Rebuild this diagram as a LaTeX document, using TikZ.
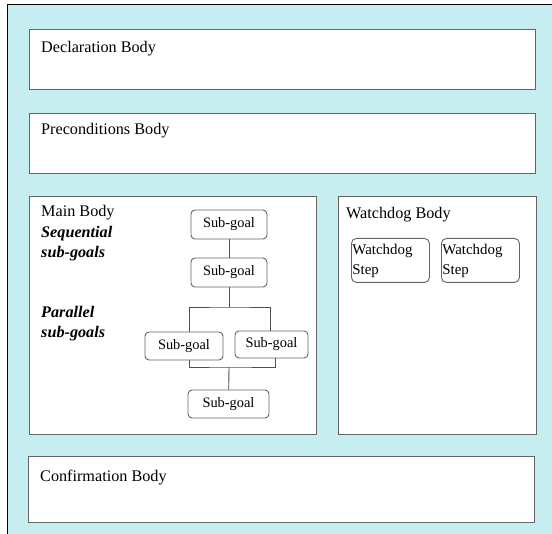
\documentclass[tikz,border=0pt]{standalone}
\usepackage{fontspec}
\setmainfont{Liberation Serif}
\definecolor{bgcyan}{RGB}{198,238,240}
\definecolor{boxgray}{RGB}{100,100,100}
\tikzset{
  bodybox/.style = {draw=boxgray, line width=1.2pt, fill=white, anchor=north west, inner sep=0pt},
  lbl/.style = {anchor=base west, inner sep=0pt, font=\fontsize{16.2}{20}\selectfont},
  emph/.style = {lbl, align=left, font=\fontsize{16.2}{20.5}\selectfont\bfseries\itshape},
  subgoal/.style = {draw=boxgray, line width=0.9pt, rounded corners=4pt, fill=white, inner sep=0pt,
                    font=\fontsize{14.4}{17}\selectfont},
  wdstep/.style = {draw=boxgray, line width=0.9pt, rounded corners=5pt, fill=white, anchor=north west,
                   text width=76pt, minimum height=44pt, align=left, inner xsep=1pt, inner ysep=1pt,
                   font=\fontsize{14.9}{20}\selectfont},
  link/.style = {draw=boxgray!80!black, line width=0.9pt}
}
\begin{document}
\begin{tikzpicture}[x=1pt, y=-1pt]
  \useasboundingbox (0,0) rectangle (552,534);
  \fill[bgcyan] (7,5) rectangle (552,534);
  \draw[line width=1pt] (7,534) -- (7,5) -- (552,5);

  % bodies
  \node[bodybox, minimum width=506pt, minimum height=60pt] (decl) at (29,29) {};
  \node[lbl] (declt) at (41,53) {Declaration Body};
  \node[bodybox, minimum width=506pt, minimum height=60pt] (pre) at (29,113) {};
  \node[lbl] (pret) at (41,135) {Preconditions Body};
  \node[bodybox, minimum width=287pt, minimum height=238pt] (main) at (29,196) {};
  \node[lbl] (maint) at (41,217) {Main Body};
  \node[emph] (seqt) at (41,258) {Sequential\\sub-goals};
  \node[emph] (part) at (41,338) {Parallel\\sub-goals};
  \node[bodybox, minimum width=198pt, minimum height=238pt] (wd) at (338,196) {};
  \node[lbl] (wdt) at (346,219) {Watchdog Body};
  \node[bodybox, minimum width=506pt, minimum height=66pt] (conf) at (28,456) {};
  \node[lbl] (conft) at (40,482) {Confirmation Body};

  % sub-goals
  \node[subgoal, minimum width=76pt, minimum height=29pt] (sg1) at (229,224.5) {Sub-goal};
  \node[subgoal, minimum width=76pt, minimum height=29pt] (sg2) at (229,272.5) {Sub-goal};
  \node[subgoal, minimum width=78pt, minimum height=28pt] (sg3) at (184,346) {Sub-goal};
  \node[subgoal, minimum width=73pt, minimum height=27pt] (sg4) at (271.5,344.5) {Sub-goal};
  \node[subgoal, minimum width=81pt, minimum height=28pt] (sg5) at (228.5,404) {Sub-goal};
  \coordinate (fork) at (229,307);
  \coordinate (join) at (229,367);

  \draw[link] (sg1) -- (sg2);
  \draw[link] (sg2) -- (fork);
  \draw[link] (sg3.north -| 189,0) |- (fork) -| (sg4.north -| 270,0);
  \draw[link] (sg3.south -| 189,0) |- (join) -| (sg4.south -| 275,0);
  \draw[link] (join) -- (sg5);

  % watchdog steps
  \node[wdstep] (ws1) at (351,238) {Watchdog\\Step};
  \node[wdstep] (ws2) at (441,238) {Watchdog\\Step};
\end{tikzpicture}
\end{document}
